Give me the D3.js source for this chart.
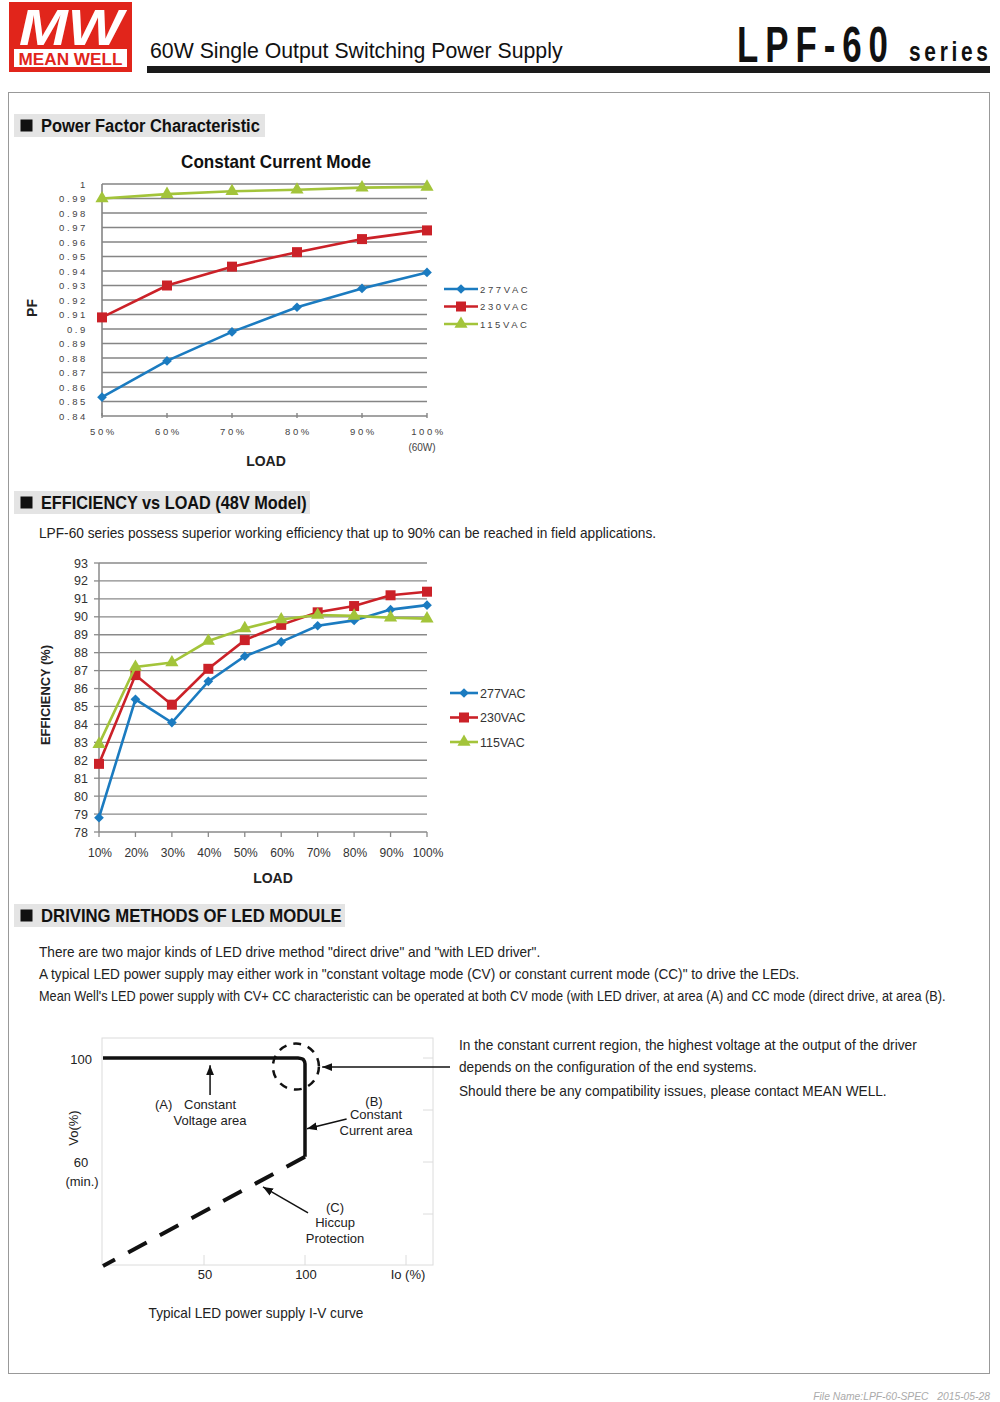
<!DOCTYPE html>
<html><head><meta charset="utf-8">
<script src="https://cdn.jsdelivr.net/npm/d3@7"></script>
<style>body{margin:0;background:#fff} svg{display:block} text{white-space:pre}</style>
</head><body>
<svg id="c" width="1000" height="1402"></svg>
<script>
// ---------------- DATA ----------------
const pfLoads = ["50%","60%","70%","80%","90%","100%"];
const pf277 = [0.853,0.878,0.898,0.915,0.928,0.939];
const pf230 = [0.908,0.930,0.943,0.953,0.962,0.968];
const pf115 = [0.990,0.993,0.995,0.996,0.9975,0.998];
const pfTicks = [1,0.99,0.98,0.97,0.96,0.95,0.94,0.93,0.92,0.91,0.9,0.89,0.88,0.87,0.86,0.85,0.84];
const pfSeriesNames = ["277VAC","230VAC","115VAC"];

const effLoads = ["10%","20%","30%","40%","50%","60%","70%","80%","90%","100%"];
const eff277 = [78.8,85.4,84.1,86.4,87.8,88.6,89.5,89.8,90.4,90.65];
const eff230 = [81.8,86.75,85.1,87.1,88.7,89.55,90.25,90.6,91.2,91.4];
const eff115 = [82.9,87.2,87.45,88.65,89.35,89.85,90.1,90.05,89.95,89.9];
const effTicks = [78,79,80,81,82,83,84,85,86,87,88,89,90,91,92,93];

const ivCV = [[0,100],[96.5,100],[99.2,99.4],[100,97.8],[100,62]];
const ivHiccup = [[100,62],[0,20]];
const ivXTicks = [50,100,150];
const ivXLabels = ["50","100","Io (%)"];
const ivYTicks = [100,60];

const colors = {"277VAC":"#1b7bc0","230VAC":"#cb2128","115VAC":"#a3c43a"};

// ---------------- SETUP ----------------
const svg = d3.select("#c");
const F = "'Liberation Sans', Arial, sans-serif";

function txt(x, y, s, o = {}) {
  const t = svg.append("text").attr("x", x).attr("y", y).text(s)
    .attr("font-family", o.ff || F)
    .attr("font-size", o.fs || 14)
    .attr("font-weight", o.fw || "normal")
    .attr("fill", o.fill || "#222")
    .attr("text-anchor", o.anchor || "start");
  if (o.ls) t.attr("letter-spacing", o.ls);
  if (o.style) t.attr("font-style", o.style);
  let tr = o.rot ? `rotate(${o.rot},${x},${y}) ` : "";
  if (o.len) {
    let nat = t.node().getComputedTextLength();
    if (o.ls) nat -= o.ls; // ignore trailing spacing
    const sx = o.len / nat;
    let dx = 0;
    if (o.ls) dx = (o.anchor === "end") ? o.ls : (o.anchor === "middle" ? o.ls / 2 : 0);
    tr += `translate(${x},${y}) scale(${sx},1) translate(${-x + dx},${-y})`;
  }
  if (tr) t.attr("transform", tr);
  return t;
}

// ---------------- HEADER ----------------
svg.append("rect").attr("x", 9).attr("y", 2).attr("width", 123).attr("height", 70).attr("fill", "#e1251b");
svg.append("rect").attr("x", 14).attr("y", 49).attr("width", 113).attr("height", 18).attr("fill", "#fff");
txt(70.5, 65, "MEAN WELL", {fs: 17, fw: "bold", fill: "#e1251b", anchor: "middle", len: 104});
txt(71, 45, "MW", {fs: 50, fw: "bold", style: "italic", fill: "#fff", anchor: "middle", len: 104});

txt(150, 58, "60W Single Output Switching Power Supply", {fs: 22, len: 413, fill: "#111"});
txt(737, 62, "LPF-60", {fs: 50, fw: "bold", len: 151, ls: 10, fill: "#111"});
txt(909, 61, "series", {fs: 28, fw: "bold", len: 79, ls: 5, fill: "#111"});
svg.append("rect").attr("x", 147).attr("y", 66).attr("width", 843).attr("height", 7).attr("fill", "#1a1a1a");

// main border
svg.append("rect").attr("x", 8.5).attr("y", 92.5).attr("width", 981).attr("height", 1281)
  .attr("fill", "none").attr("stroke", "#999").attr("stroke-width", 1);

function sectionHeader(y, w, label, len) {
  svg.append("rect").attr("x", 14).attr("y", y).attr("width", w).attr("height", 23).attr("fill", "#e4e4e4");
  svg.append("rect").attr("x", 20.5).attr("y", y + 5.5).attr("width", 12).attr("height", 12).attr("fill", "#111");
  txt(41, y + 18, label, {fs: 18, fw: "bold", len: len, fill: "#111"});
}

// ---------------- PF CHART ----------------
sectionHeader(114, 251, "Power Factor Characteristic", 219);
txt(276, 168, "Constant Current Mode", {fs: 18, fw: "bold", anchor: "middle", len: 190, fill: "#111"});

const pfX = d3.scalePoint().domain(pfLoads).range([102, 427]);
const pfY = d3.scaleLinear().domain([0.84, 1]).range([416, 184]);
const pfG = svg.append("g");
pfG.selectAll("line.grid").data(pfTicks.filter(d => d > 0.845)).enter().append("line")
  .attr("x1", 102).attr("x2", 427).attr("y1", d => pfY(d)).attr("y2", d => pfY(d))
  .attr("stroke", "#858585").attr("stroke-width", 1.4);
pfG.append("line").attr("x1", 102).attr("x2", 102).attr("y1", pfY(1)).attr("y2", pfY(0.84))
  .attr("stroke", "#858585").attr("stroke-width", 1.6);
pfG.append("line").attr("x1", 102).attr("x2", 427).attr("y1", pfY(0.84)).attr("y2", pfY(0.84))
  .attr("stroke", "#858585").attr("stroke-width", 1.6);
pfG.selectAll("line.tk").data(pfLoads).enter().append("line")
  .attr("x1", d => pfX(d)).attr("x2", d => pfX(d)).attr("y1", pfY(0.84) - 3).attr("y2", pfY(0.84) + 2)
  .attr("stroke", "#858585").attr("stroke-width", 1.4);
pfTicks.forEach(d => {
  const s = d === 1 ? "1" : d3.format(".2f")(d).replace(/0$/, "");
  txt(88, pfY(d) + 3.5, s, {fs: 9.5, fill: "#444", anchor: "end", ls: 2.6});
});
pfLoads.forEach(d => txt(pfX(d) + 1.5, 435, d, {fs: 9.5, fill: "#444", anchor: "middle", ls: 2.6}));
txt(422, 451, "(60W)", {fs: 10, fill: "#444", anchor: "middle"});
txt(266, 466, "LOAD", {fs: 14, fw: "bold", anchor: "middle", fill: "#222"});
txt(37, 308, "PF", {fs: 14, fw: "bold", anchor: "middle", rot: -90, fill: "#222"});

const symbols = {"277VAC": d3.symbol().type(d3.symbolDiamond2).size(60),
                 "230VAC": d3.symbol().type(d3.symbolSquare).size(100),
                 "115VAC": d3.symbol().type(d3.symbolTriangle).size(75)};

function drawSeries(g, xs, ys, cats, vals, name, sym, sw) {
  const line = d3.line().x((d, i) => xs(cats[i])).y(d => ys(d));
  g.append("path").attr("d", line(vals)).attr("fill", "none").attr("stroke", colors[name]).attr("stroke-width", sw);
  g.selectAll(null).data(vals).enter().append("path")
    .attr("d", sym).attr("fill", colors[name])
    .attr("transform", (d, i) => `translate(${xs(cats[i])},${ys(d)})`);
}
const pfData = {"277VAC": pf277, "230VAC": pf230, "115VAC": pf115};
["277VAC", "230VAC", "115VAC"].forEach(n => drawSeries(pfG, pfX, pfY, pfLoads, pfData[n], n, symbols[n], 2.6));

// PF legend
const pfLegY = d3.scalePoint().domain(pfSeriesNames).range([289, 324]);
pfSeriesNames.forEach(n => {
  const y = pfLegY(n);
  pfG.append("line").attr("x1", 444).attr("x2", 478).attr("y1", y).attr("y2", y).attr("stroke", colors[n]).attr("stroke-width", 2.6);
  pfG.append("path").attr("d", symbols[n]).attr("fill", colors[n]).attr("transform", `translate(461,${y})`);
  txt(480, y + 3.5, n, {fs: 9.5, fill: "#444", ls: 2.6});
});

// ---------------- EFFICIENCY CHART ----------------
sectionHeader(491, 296, "EFFICIENCY vs LOAD (48V Model)", 266);
txt(39, 538, "LPF-60 series possess superior working efficiency that up to 90% can be reached in field applications.", {fs: 14, len: 618, fill: "#222"});

const eX = d3.scalePoint().domain(effLoads).range([99, 427]);
const eY = d3.scaleLinear().domain([78, 93]).range([832, 563]);
const eG = svg.append("g");
eG.selectAll(null).data(effTicks.filter(d => d > 78)).enter().append("line")
  .attr("x1", 99).attr("x2", 427).attr("y1", d => eY(d)).attr("y2", d => eY(d))
  .attr("stroke", "#8a8a8a").attr("stroke-width", 1.3);
eG.append("line").attr("x1", 99).attr("x2", 99).attr("y1", eY(93)).attr("y2", eY(78)).attr("stroke", "#8a8a8a").attr("stroke-width", 1.5);
eG.append("line").attr("x1", 99).attr("x2", 427).attr("y1", eY(78)).attr("y2", eY(78)).attr("stroke", "#8a8a8a").attr("stroke-width", 1.5);
eG.selectAll(null).data(effTicks).enter().append("line")
  .attr("x1", 94).attr("x2", 99).attr("y1", d => eY(d)).attr("y2", d => eY(d)).attr("stroke", "#8a8a8a").attr("stroke-width", 1.3);
eG.selectAll(null).data(effLoads).enter().append("line")
  .attr("x1", d => eX(d)).attr("x2", d => eX(d)).attr("y1", eY(78)).attr("y2", eY(78) + 5).attr("stroke", "#8a8a8a").attr("stroke-width", 1.3);
effTicks.forEach(d => txt(88, eY(d) + 4.5, String(d), {fs: 12.5, fill: "#333", anchor: "end"}));
effLoads.forEach(d => txt(eX(d) + 1, 857, d, {fs: 12, fill: "#333", anchor: "middle"}));
txt(273, 883, "LOAD", {fs: 14, fw: "bold", anchor: "middle", fill: "#222"});
txt(50, 695, "EFFICIENCY (%)", {fs: 12.5, fw: "bold", anchor: "middle", rot: -90, len: 100, fill: "#222"});

const effData = {"277VAC": eff277, "230VAC": eff230, "115VAC": eff115};
["277VAC", "230VAC", "115VAC"].forEach(n => drawSeries(eG, eX, eY, effLoads, effData[n], n, symbols[n], 2.6));

const eLegY = d3.scalePoint().domain(pfSeriesNames).range([693, 742]);
pfSeriesNames.forEach(n => {
  const y = eLegY(n);
  eG.append("line").attr("x1", 450).attr("x2", 478).attr("y1", y).attr("y2", y).attr("stroke", colors[n]).attr("stroke-width", 2.6);
  eG.append("path").attr("d", symbols[n]).attr("fill", colors[n]).attr("transform", `translate(464,${y})`);
  txt(480, y + 4.5, n, {fs: 12.5, fill: "#333"});
});

// ---------------- DRIVING METHODS ----------------
sectionHeader(904, 331, "DRIVING METHODS OF LED MODULE", 301);
txt(39, 957, "There are two major kinds of LED drive method \"direct drive\" and \"with LED driver\".", {fs: 14, len: 502});
txt(39, 979, "A typical LED power supply may either work in \"constant voltage mode (CV) or constant current mode (CC)\" to drive the LEDs.", {fs: 14, len: 761});
txt(39, 1001, "Mean Well's LED power supply with CV+ CC characteristic can be operated at both CV mode (with LED driver, at area (A) and CC mode (direct drive, at area (B).", {fs: 14, len: 907});

txt(459, 1050, "In the constant current region, the highest voltage at the output of the driver", {fs: 14, len: 458});
txt(459, 1072, "depends on the configuration of the end systems.", {fs: 14, len: 298});
txt(459, 1096, "Should there be any compatibility issues, please contact MEAN WELL.", {fs: 14, len: 428});

const ivX = d3.scaleLinear().domain([0, 100]).range([103, 305]);
const ivY = d3.scaleLinear().domain([60, 100]).range([1162, 1058]);
const ivG = svg.append("g");
const xl = ivX.invert(102), xr = ivX.invert(433), yt = ivY.invert(1038), yb = ivY.invert(1265);
// frame
ivG.append("rect").attr("x", ivX(xl)).attr("y", ivY(yt)).attr("width", ivX(xr) - ivX(xl)).attr("height", ivY(yb) - ivY(yt))
  .attr("fill", "none").attr("stroke", "#dcdcdc").attr("stroke-width", 1);
ivXTicks.forEach(v => ivG.append("line").attr("x1", ivX(v)).attr("x2", ivX(v)).attr("y1", ivY(yb) - 10).attr("y2", ivY(yb)).attr("stroke", "#dcdcdc"));
[100, 80, 60, 40].forEach(v => ivG.append("line").attr("x1", ivX(xr) - 10).attr("x2", ivX(xr)).attr("y1", ivY(v)).attr("y2", ivY(v)).attr("stroke", "#dcdcdc"));

const ivLine = d3.line().x(d => ivX(d[0])).y(d => ivY(d[1]));
ivG.append("path").attr("d", d3.line().x(d => ivX(d[0])).y(d => ivY(d[1])).curve(d3.curveMonotoneY)(ivCV))
  .attr("fill", "none").attr("stroke", "#111").attr("stroke-width", 3.5).attr("stroke-linejoin", "round");
ivG.append("path").attr("d", ivLine(ivHiccup)).attr("fill", "none").attr("stroke", "#111")
  .attr("stroke-width", 4).attr("stroke-dasharray", "21,15");
// dashed circle
ivG.append("circle").attr("cx", ivX(95.5)).attr("cy", ivY(96.7)).attr("r", 23)
  .attr("fill", "none").attr("stroke", "#111").attr("stroke-width", 2.5).attr("stroke-dasharray", "8,7");

// arrows
const defs = svg.append("defs");
defs.append("marker").attr("id", "ah").attr("viewBox", "0 0 10 10").attr("refX", 10).attr("refY", 5)
  .attr("markerWidth", 10).attr("markerHeight", 10).attr("markerUnits", "userSpaceOnUse").attr("orient", "auto")
  .append("path").attr("d", "M0,1 L10,5 L0,9 Z").attr("fill", "#111");
const arrows = [
  [[53, 85.8], [53, 97.2]],
  [[171.8, 96.5], [108.5, 96.5]],
  [[120.6, 76.5], [101, 72.8]],
  [[101.5, 40.4], [79.2, 50.4]]
];
arrows.forEach(a => ivG.append("path").attr("d", ivLine(a)).attr("stroke", "#111").attr("stroke-width", 1.5)
  .attr("fill", "none").attr("marker-end", "url(#ah)"));

// labels
const fs13 = {fs: 13, fill: "#222"};
txt(92, 1064, "100", {...fs13, anchor: "end"});
txt(81, 1167, "60", {...fs13, anchor: "middle"});
txt(82, 1186, "(min.)", {...fs13, anchor: "middle"});
txt(78, 1128, "Vo(%)", {...fs13, anchor: "middle", rot: -90});
txt(155, 1109, "(A)", fs13);
txt(184, 1109, "Constant", fs13);
txt(210, 1125, "Voltage area", {...fs13, anchor: "middle"});
txt(374, 1106, "(B)", {...fs13, anchor: "middle"});
txt(376, 1119, "Constant", {...fs13, anchor: "middle"});
txt(376, 1135, "Current area", {...fs13, anchor: "middle"});
txt(335, 1212, "(C)", {...fs13, anchor: "middle"});
txt(335, 1227, "Hiccup", {...fs13, anchor: "middle"});
txt(335, 1243, "Protection", {...fs13, anchor: "middle"});
ivXTicks.forEach((v, i) => txt(ivX(v) + (i === 2 ? 2 : 1), 1279, ivXLabels[i], {...fs13, anchor: "middle"}));
txt(256, 1318, "Typical LED power supply I-V curve", {fs: 14, len: 215, anchor: "middle"});

// footer
txt(990, 1400, "File Name:LPF-60-SPEC   2015-05-28", {fs: 10, fill: "#aaa", anchor: "end", style: "italic", len: 177});
</script>
</body></html>
